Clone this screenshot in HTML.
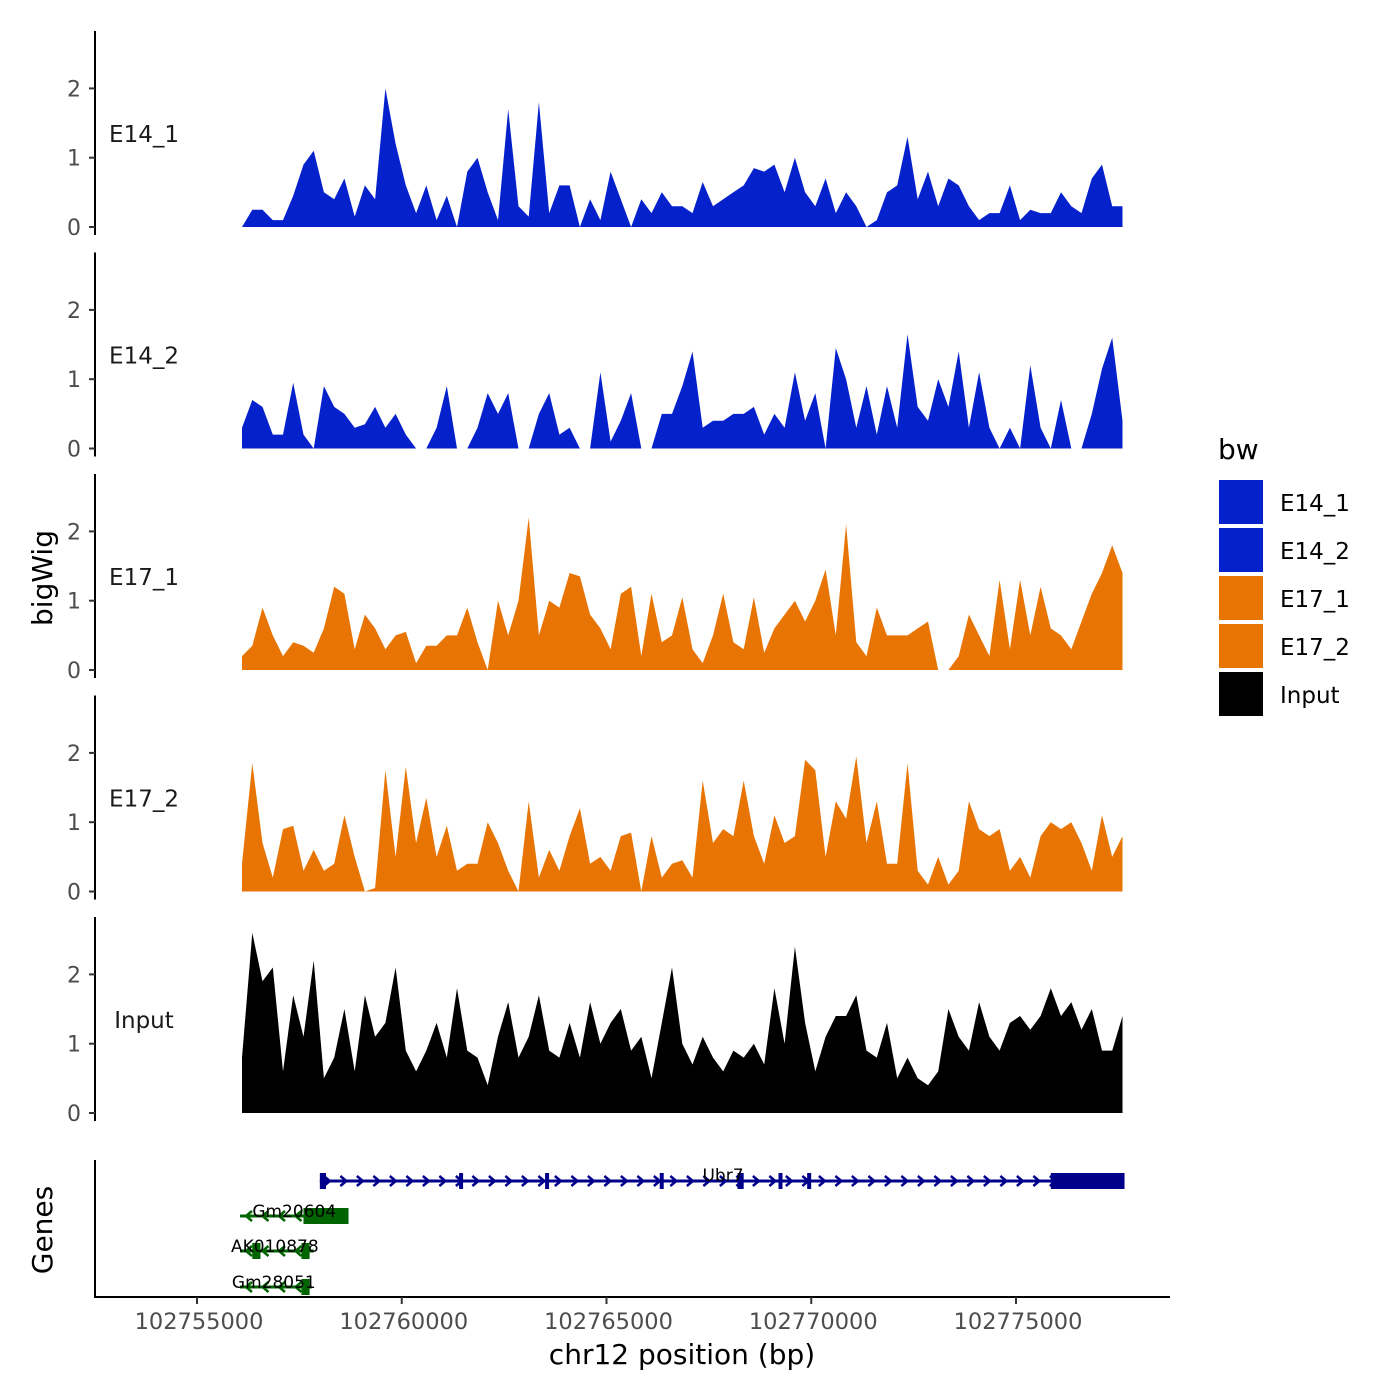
<!DOCTYPE html>
<html><head><meta charset="utf-8"><style>
html,body{margin:0;padding:0;background:#fff}
svg{display:block;font-family:"DejaVu Sans","Liberation Sans",sans-serif}
</style></head><body>
<svg id="chart" width="1400" height="1400" viewBox="0 0 1400 1400" xmlns="http://www.w3.org/2000/svg"></svg>
<script>
const trackNames = ["E14_1","E14_2","E17_1","E17_2","Input"];
const binStart = 102756100;
const binSize = 250;
const e14_1 = [0,0.25,0.25,0.1,0.1,0.45,0.9,1.1,0.5,0.4,0.7,0.15,0.6,0.4,2.0,1.2,0.6,0.2,0.6,0.1,0.45,0,0.8,1.0,0.5,0.1,1.7,0.3,0.15,1.8,0.2,0.6,0.6,0,0.4,0.1,0.8,0.4,0,0.4,0.2,0.5,0.3,0.3,0.2,0.65,0.3,0.4,0.5,0.6,0.85,0.8,0.9,0.5,1.0,0.5,0.3,0.7,0.2,0.5,0.3,0,0.1,0.5,0.6,1.3,0.4,0.8,0.3,0.7,0.6,0.3,0.1,0.2,0.2,0.6,0.1,0.25,0.2,0.2,0.5,0.3,0.2,0.7,0.9,0.3,0.3];
const e14_2 = [0.3,0.7,0.6,0.2,0.2,0.95,0.2,0,0.9,0.6,0.5,0.3,0.35,0.6,0.3,0.5,0.2,0,0,0.3,0.9,0,0,0.3,0.8,0.5,0.8,0,0,0.5,0.8,0.2,0.3,0,0,1.1,0.1,0.4,0.8,0,0,0.5,0.5,0.9,1.4,0.3,0.4,0.4,0.5,0.5,0.6,0.2,0.5,0.3,1.1,0.4,0.8,0,1.45,1.0,0.3,0.9,0.2,0.9,0.3,1.65,0.6,0.4,1.0,0.6,1.4,0.3,1.1,0.3,0,0.3,0,1.2,0.3,0,0.7,0,0,0.5,1.15,1.6,0.4];
const e17_1 = [0.2,0.35,0.9,0.5,0.2,0.4,0.35,0.25,0.6,1.2,1.1,0.3,0.8,0.6,0.3,0.5,0.55,0.1,0.35,0.35,0.5,0.5,0.9,0.4,0,1.0,0.5,1.0,2.2,0.5,1.0,0.9,1.4,1.35,0.8,0.6,0.3,1.1,1.2,0.2,1.1,0.4,0.5,1.05,0.3,0.1,0.5,1.1,0.4,0.3,1.05,0.25,0.6,0.8,1.0,0.7,1.0,1.45,0.5,2.1,0.4,0.2,0.9,0.5,0.5,0.5,0.6,0.7,0,0,0.2,0.8,0.5,0.2,1.3,0.3,1.3,0.5,1.2,0.6,0.5,0.3,0.7,1.1,1.4,1.8,1.4];
const e17_2 = [0.4,1.85,0.7,0.2,0.9,0.95,0.3,0.6,0.3,0.4,1.1,0.5,0,0.05,1.75,0.5,1.8,0.7,1.35,0.5,0.95,0.3,0.4,0.4,1.0,0.7,0.3,0,1.3,0.2,0.6,0.3,0.8,1.2,0.4,0.5,0.3,0.8,0.85,0,0.8,0.2,0.4,0.45,0.2,1.6,0.7,0.9,0.8,1.6,0.8,0.4,1.1,0.7,0.8,1.9,1.75,0.5,1.3,1.05,1.95,0.7,1.3,0.4,0.4,1.85,0.3,0.1,0.5,0.1,0.3,1.3,0.9,0.8,0.9,0.3,0.5,0.2,0.8,1.0,0.9,1.0,0.7,0.3,1.1,0.5,0.8];
const input = [0.8,2.6,1.9,2.1,0.6,1.7,1.1,2.2,0.5,0.8,1.5,0.6,1.7,1.1,1.3,2.1,0.9,0.6,0.9,1.3,0.8,1.8,0.9,0.8,0.4,1.1,1.6,0.8,1.1,1.7,0.9,0.8,1.3,0.8,1.6,1.0,1.3,1.5,0.9,1.1,0.5,1.3,2.1,1.0,0.7,1.1,0.8,0.6,0.9,0.8,1.0,0.7,1.8,1.0,2.4,1.3,0.6,1.1,1.4,1.4,1.7,0.9,0.8,1.3,0.5,0.8,0.5,0.4,0.6,1.5,1.1,0.9,1.6,1.1,0.9,1.3,1.4,1.2,1.4,1.8,1.4,1.6,1.2,1.5,0.9,0.9,1.4];
const seriesValues = [e14_1,e14_2,e17_1,e17_2,input];
const trackColors = ["#0521CC","#0521CC","#E87503","#E87503","#000000"];
const yTicks = [0,1,2];
const xTicks = [102755000,102760000,102765000,102770000,102775000];
const geneNames = ["Ubr7","Gm20604","AK010878","Gm28051"];
const geneStarts = [102758000,102756050,102756050,102756050];
const geneEnds = [102777650,102758700,102757850,102757800];
const geneStrand = [1,-1,-1,-1];
const geneExons = [
  [[102758000,102758150],[102761400,102761480],[102763500,102763560],[102766300,102766360],[102768200,102768350],[102769200,102769280],[102769900,102769990],[102775850,102777650]],
  [[102757600,102758700]],
  [[102756350,102756550],[102757550,102757750]],
  [[102757550,102757750]]
];
const geneColors = ["#00008B","#006400","#006400","#006400"];

const NS="http://www.w3.org/2000/svg";
const svg=document.getElementById('chart');
function mk(tag,attrs,parent){const e=document.createElementNS(NS,tag);for(const k in attrs)e.setAttribute(k,attrs[k]);(parent||svg).appendChild(e);return e;}
const xScale = bp => 197 + (bp-102755000)*(819/20000);
const panelZero = [227,448.5,670,891.5,1113];
const pxPerUnit = 69.3;

trackNames.forEach((name,t)=>{
  const g=mk('g',{});
  
  
  const z=panelZero[t];
  const vals=seriesValues[t];
  let d='M'+xScale(binStart).toFixed(1)+' '+z;
  vals.forEach((v,i)=>{d+=' L'+xScale(binStart+i*binSize).toFixed(1)+' '+(z-v*pxPerUnit).toFixed(1);});
  d+=' L'+xScale(binStart+(vals.length-1)*binSize).toFixed(1)+' '+z+' Z';
  const p=mk('path',{d:d,fill:trackColors[t]},g);
  
  
  const ax=mk('line',{x1:95,x2:95,y1:z-196,y2:z+8,stroke:'#000','stroke-width':2},g);
  
  
  yTicks.forEach(v=>{
    const y=z-v*pxPerUnit;
    mk('line',{x1:89,x2:95,y1:y,y2:y,stroke:'#333','stroke-width':2},g);
    const tx=mk('text',{x:81,y:y+8,'text-anchor':'end','font-size':22,fill:'#4d4d4d'},g);
    tx.textContent=v;
    
    
  });
  const lb=mk('text',{x:144,y:z-85,'text-anchor':'middle','font-size':23,fill:'#1a1a1a'},g);
  lb.textContent=name;
  
  
});

// gene track
const gg=mk('g',{});


const gAx=mk('line',{x1:95,x2:95,y1:1160,y2:1298,stroke:'#000','stroke-width':2},gg);


const geneY=[1181,1216,1251,1287];
geneNames.forEach((n,i)=>{
  const y=geneY[i],c=geneColors[i];
  const x1=xScale(geneStarts[i]),x2=xScale(geneEnds[i]);
  const ge=mk('g',{},gg);
  
  
  mk('line',{x1:x1,x2:x2,y1:y,y2:y,stroke:c,'stroke-width':3},ge);
  for(let x=x1+8;x<x2-2;x+=16.5){
    const s=geneStrand[i];
    mk('polyline',{points:`${x-4*s},${y-5} ${x+2*s},${y} ${x-4*s},${y+5}`,fill:'none',stroke:c,'stroke-width':2.5},ge);
  }
  geneExons[i].forEach(e=>{
    const a=xScale(e[0]),b=xScale(e[1]);
    mk('rect',{x:a,y:y-8,width:Math.max(b-a,4),height:16,fill:c},ge);
  });
  const tx=mk('text',{x:i==0?723:(x1+x2)/2+(i==1?0:-2),y:y+(i==0?0:1),'text-anchor':'middle','font-size':17,fill:'#000'},ge);
  tx.textContent=n;
  
  
});

// x axis
const xa=mk('g',{});


mk('line',{x1:95,x2:1170,y1:1297,y2:1297,stroke:'#000','stroke-width':2},xa);
xTicks.forEach(v=>{
  const x=xScale(v);
  mk('line',{x1:x,x2:x,y1:1297,y2:1304,stroke:'#333','stroke-width':2},xa);
  const tx=mk('text',{x:x+2,y:1329,'text-anchor':'middle','font-size':22.5,fill:'#4d4d4d'},xa);
  tx.textContent=v;
  
  
});
const xt=mk('text',{x:682,y:1364,'text-anchor':'middle','font-size':28,fill:'#000'});
xt.textContent='chr12 position (bp)';


const yt=mk('text',{x:52,y:578,'text-anchor':'middle','font-size':28,fill:'#000',transform:'rotate(-90 52 578)'});
yt.textContent='bigWig';


const gt=mk('text',{x:52,y:1230,'text-anchor':'middle','font-size':28,fill:'#000',transform:'rotate(-90 52 1230)'});
gt.textContent='Genes';



// legend
const lg=mk('g',{});


const lt=mk('text',{x:1218,y:459,'font-size':28,fill:'#000'},lg);
lt.textContent='bw';


trackNames.forEach((n,i)=>{
  const y=480+i*48;
  const e=mk('g',{},lg);
  
  
  mk('rect',{x:1219,y:y,width:44,height:44,fill:trackColors[i]},e);
  const tx=mk('text',{x:1280,y:y+31,'font-size':23,fill:'#000'},e);
  tx.textContent=n;
});
</script>
</body></html>
